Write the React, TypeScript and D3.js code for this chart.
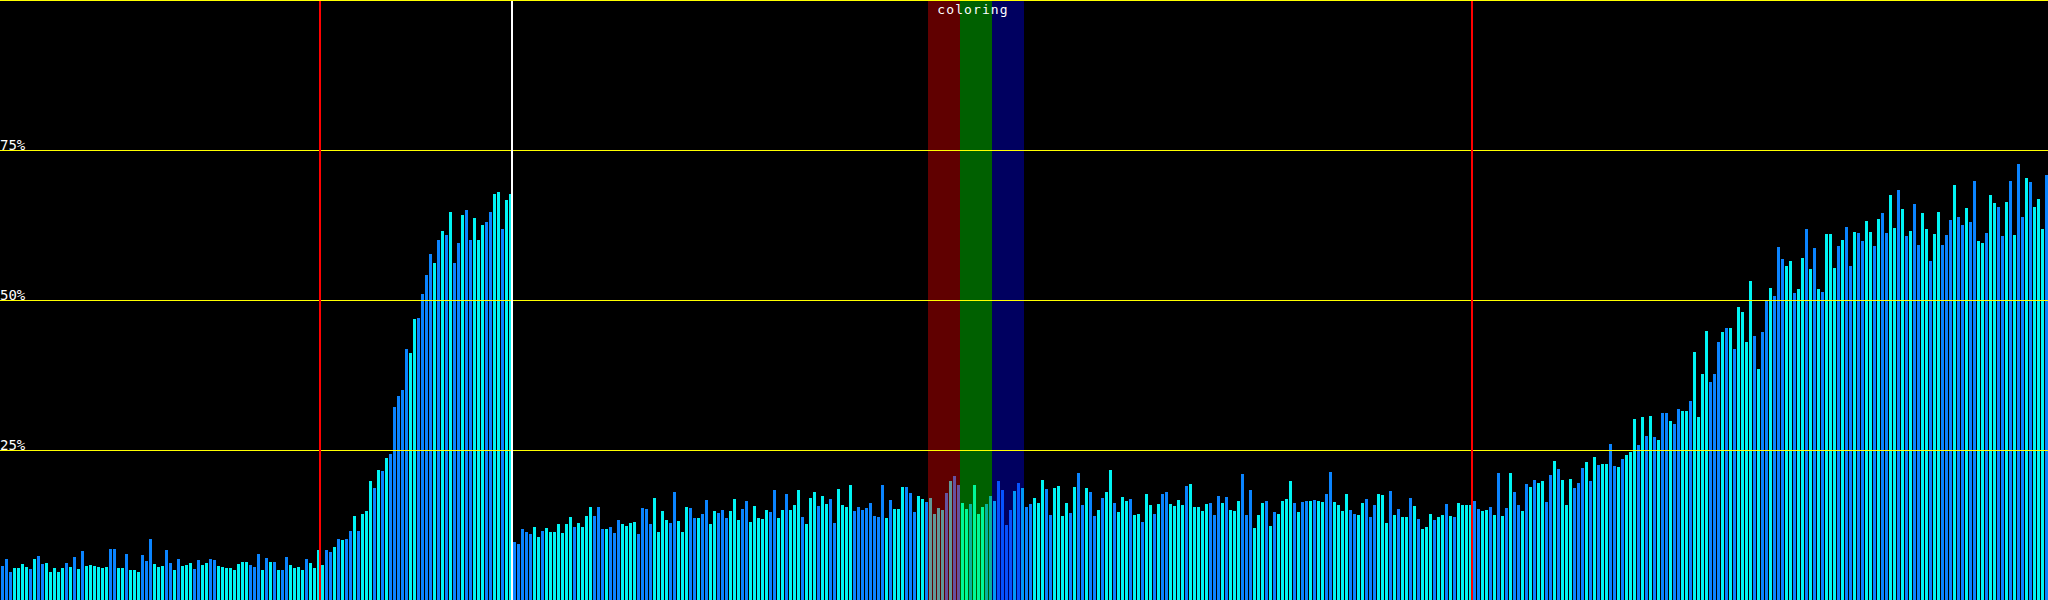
import React, { useEffect } from "react";
import * as d3 from "d3";

// Bar values, percent of full scale
const values: number[] = [
  5.7,6.8,4.7,5.3,5.3,6.0,5.5,5.2,6.8,7.3,
  6.0,6.2,4.7,5.3,4.7,5.3,6.2,5.5,7.2,5.2,
  8.2,5.7,5.8,5.7,5.5,5.3,5.5,8.5,8.5,5.3,
  5.3,7.7,5.0,5.0,4.7,7.5,6.5,10.2,6.0,5.5,
  5.7,8.3,6.2,5.0,6.8,5.7,5.8,6.2,5.2,6.7,
  5.8,6.2,6.8,6.7,5.7,5.5,5.3,5.3,5.0,6.0,
  6.3,6.3,5.8,5.5,7.7,5.0,7.0,6.3,6.3,5.0,
  5.0,7.2,5.8,5.3,5.5,5.0,6.8,6.2,5.3,8.3,
  5.8,8.3,8.0,8.8,10.2,10.0,10.2,11.5,14.0,11.5,
  14.3,14.8,19.8,18.7,21.7,21.5,23.7,24.3,32.2,34.0,
  35.0,41.8,41.2,46.8,47.0,51.0,54.2,57.7,56.2,60.0,
  61.5,60.8,64.7,56.2,59.5,64.2,65.0,60.0,63.7,60.0,
  62.5,63.0,64.7,67.7,68.0,61.8,66.7,67.7,9.7,9.3,
  11.8,11.3,11.0,12.2,10.5,11.5,12.0,11.3,11.3,12.7,
  11.2,12.7,13.8,12.2,12.8,12.2,14.0,15.5,14.0,15.5,
  11.8,11.8,12.2,11.2,13.3,12.7,12.3,12.8,13.0,11.0,
  15.3,15.2,12.7,17.0,11.3,14.8,13.3,12.8,18.0,13.2,
  11.3,15.5,15.3,13.7,13.7,14.3,16.7,12.7,14.8,14.5,
  15.0,13.7,14.8,16.8,13.3,15.2,16.5,13.0,15.7,13.7,
  13.5,15.0,14.7,18.3,13.7,15.0,17.7,15.0,15.8,18.3,
  13.8,12.7,17.0,18.0,15.7,17.3,16.0,16.8,12.8,18.5,
  15.8,15.5,19.2,14.8,15.5,15.0,15.3,16.2,14.0,13.8,
  19.2,13.7,16.7,15.2,15.2,18.8,18.8,17.8,14.7,17.3,
  16.8,16.3,17.0,14.3,15.3,15.0,17.8,19.8,20.7,19.2,
  16.2,15.2,16.0,19.2,14.3,15.5,16.0,17.3,16.5,19.8,
  18.3,12.5,15.0,18.2,19.5,18.7,15.5,16.0,17.0,16.2,
  20.0,18.5,14.2,18.7,19.0,14.0,16.2,14.5,18.8,21.2,
  15.8,18.7,18.0,14.0,15.0,17.0,18.0,21.7,16.2,14.7,
  17.2,16.5,16.8,14.2,14.3,13.0,17.7,15.8,14.3,16.0,
  17.7,18.0,16.0,15.7,16.7,15.8,19.0,19.3,15.5,15.5,
  14.8,16.0,16.2,14.2,17.3,16.2,17.2,15.0,14.8,16.5,
  21.0,14.2,18.3,12.0,14.2,16.2,16.5,12.3,14.7,14.3,
  16.5,16.8,19.8,16.2,14.7,16.3,16.5,16.5,16.7,16.5,
  16.3,17.7,21.3,16.3,15.8,14.8,17.7,15.0,14.3,14.2,
  16.2,16.8,13.8,15.8,17.7,17.5,12.8,18.2,14.2,15.2,
  13.8,13.8,17.0,15.7,13.5,11.8,12.2,14.3,13.3,13.8,
  14.2,16.0,14.0,13.8,16.2,15.8,15.8,15.8,16.5,15.2,
  14.8,15.0,15.5,14.2,21.2,14.0,15.3,21.2,18.0,15.8,
  14.8,19.3,18.8,20.0,19.5,19.8,16.3,20.8,23.2,21.8,
  20.0,15.8,20.2,18.7,19.5,22.0,23.0,19.8,23.8,22.5,
  22.7,22.7,26.0,22.3,22.2,23.5,24.2,24.7,30.2,25.8,
  30.5,27.3,30.7,27.2,26.7,31.2,31.2,29.8,29.3,31.8,
  31.5,31.5,33.2,41.3,30.5,37.7,44.8,36.3,37.7,43.0,
  44.7,45.3,45.3,41.8,48.8,48.0,43.0,53.2,44.0,38.5,
  44.7,49.8,52.0,50.7,58.8,56.8,55.7,56.5,51.2,51.8,
  57.0,61.8,55.2,58.7,51.8,51.3,61.0,61.0,55.3,59.0,
  60.0,62.2,55.7,61.3,61.2,59.8,63.2,61.3,59.0,63.5,
  64.5,61.2,67.5,62.0,68.3,65.2,60.7,61.5,66.0,59.2,
  64.5,61.8,56.5,61.0,64.7,59.2,60.8,63.3,69.2,63.8,
  62.5,65.3,63.0,69.8,59.8,59.5,61.2,67.5,66.2,65.5,
  60.7,66.3,69.8,60.8,72.7,63.8,70.3,69.7,65.5,66.8,
  61.8,70.8,
];

// Per-bar shade: C = cyan, B = blue
const shades: string[] = (
  "BBBCCCCBCB" + "BCCCCCBCBC" + "BCCCCCCBBC" + "CBCCCBBBCC" + "CBBCBCCCBB" + "CCBBCCCCCC" + "CCBBBCBCBC" +
  "BBCCCCBCCC" + "CBBCBCBBCB" + "CCCBCBCBBB" + "BBCCBBBBCB" + "CBCBBCBBCC" + "CBBCCBCCBB" + "BBBCC" +
  "BCCCCCCCBC" + "CCCBBBCBBB" + "CCCCBBBBCC" + "CCBBCCCBBC" + "BBCCBBBCCC" + "BBCCCCCBBC" + "CBCCCBCCCB" + "CCBBCCCCBB" + "BBBBBB" +
  "CBCCCBBBCC" + "BCCCCBCBBC" + "CBCCCBBCBB" + "BBCBCBBCCC" + "BBCCCCBCB" +
  "BCBBCBCCBC" + "CCBCCBCCBC" + "BBCCCCBCCC" + "CCBBBCBCCC" + "BBBCCCBCBC" + "CCCBCBBCBC" + "CBBCCCCBBC" + "CBBBCCCBCB" + "CCBCBC" +
  "CCBCCBCBCC" + "CCBBCCBCBC" + "BCBBCBCBCC" + "BBCBCCCBBB" + "CBCBCCBBC" +
  "BCCCBCBCBC" + "BBCBBCCBCC" + "CCBBBCBCBC" + "CCCBCBBCBB" + "BCCBCCBCBC" + "BCCCBCBB" +
  "CBBCCBCBBC" + "CBCBCBBCCB" + "CCBBBCBBCB" + "BCCBCCBBCB" + "CBBCBCCCB"
).split("");

const shadeColor: Record<string, string> = { C: "#00f4f4", B: "#0a84ff" };

const gridLevels = [25, 50, 75];
const gridLabels = ["25%", "50%", "75%"];

const markerIndex = [80, 128, 368];
const markerColor = ["#ff0000", "#ffffff", "#ff0000"];

const bandStart = [232, 240, 248];
const bandLength = 8;
const bandColor = ["#ff0000", "#00ff00", "#0000ff"];
const bandTitle = "coloring";

const W = 2048;
const H = 600;

export default function App() {
  useEffect(() => {
    document.body.style.margin = "0";
    document.body.style.background = "#000";
  }, []);

  const x = d3
    .scaleBand<number>()
    .domain(d3.range(values.length))
    .range([0.5, W + 0.5])
    .paddingInner(0.25)
    .paddingOuter(0.125);
  const y = d3.scaleLinear().domain([0, 100]).range([H, 0]);
  const step = x.step();
  const gap = step - x.bandwidth();

  const bandX0 = (x(bandStart[0]) as number) - gap;
  const bandX1 = (x(bandStart[bandStart.length - 1]) as number) - gap + bandLength * step;
  const font = "'DejaVu Sans Mono', monospace";

  return (
    <svg width={W} height={H} style={{ display: "block", background: "#000" }} shapeRendering="crispEdges">
      <rect x={0} y={0} width={W} height={H} fill="#000" />
      <g>
        {values.map((v, i) => {
          const top = Math.round(y(v));
          return (
            <rect
              key={i}
              x={x(i)}
              y={top}
              width={x.bandwidth()}
              height={H - top}
              fill={shadeColor[shades[i] || "C"]}
            />
          );
        })}
      </g>
      <g>
        {bandStart.map((s, k) => (
          <rect
            key={k}
            x={(x(s) as number) - gap}
            y={0}
            width={bandLength * step}
            height={H}
            fill={bandColor[k]}
            fillOpacity={0.376}
          />
        ))}
      </g>
      <g>
        {gridLevels.map((lv) => (
          <rect key={lv} x={0} y={Math.round(y(lv))} width={W} height={1} fill="#ffff00" />
        ))}
      </g>
      <g>
        {markerIndex.map((m, k) => (
          <rect key={k} x={(x(m) as number) - gap - 1} y={0} width={2} height={H} fill={markerColor[k]} />
        ))}
      </g>
      <rect x={0} y={Math.round(y(100))} width={W} height={1} fill="#ffff00" />
      <g fontFamily={font} fill="#ffffff">
        {gridLevels.map((lv, k) => (
          <text key={lv} x={0} y={y(lv) - 0.5} fontSize={14}>
            {gridLabels[k]}
          </text>
        ))}
        <text
          x={(bandX0 + bandX1) / 2 - 3}
          y={14}
          fontSize={13}
          letterSpacing={1.1}
          textAnchor="middle"
        >
          {bandTitle}
        </text>
      </g>
    </svg>
  );
}
